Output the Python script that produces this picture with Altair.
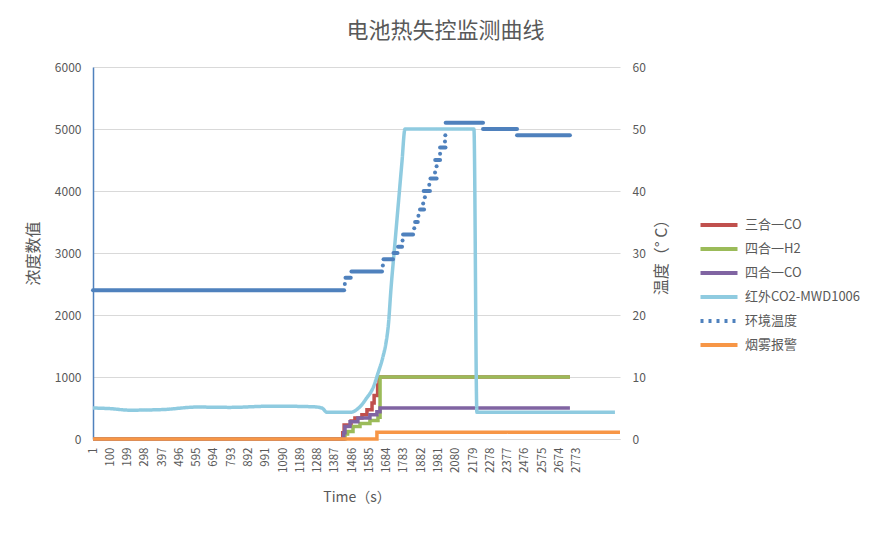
import altair as alt
import pandas as pd

# ---------------- data ----------------
SERIES = ["三合一CO", "四合一H2", "四合一CO", "红外CO2-MWD1006", "环境温度", "烟雾报警"]
COLORS = ["#c0504d", "#9bbb59", "#8064a2", "#8fcbe0", "#4f81bd", "#f79646"]
DASHES = [[1, 0], [1, 0], [1, 0], [1, 0], [3, 5], [1, 0]]

X_TICKS = [1, 100, 199, 298, 397, 496, 595, 694, 793, 892, 991, 1090, 1189, 1288,
           1387, 1486, 1585, 1684, 1783, 1882, 1981, 2080, 2179, 2278, 2377, 2476,
           2575, 2674, 2773]
X_DOMAIN = [1, 3021]
Y_LEFT_TICKS = [0, 1000, 2000, 3000, 4000, 5000, 6000]
Y_RIGHT_TICKS = [0, 10, 20, 30, 40, 50, 60]

# 三合一CO
co3_t = [1, 1428, 1432, 1440, 1480, 1502, 1542, 1571, 1600, 1612, 1632, 1640, 2734]
co3_v = [0, 0, 100, 225, 290, 340, 390, 470, 580, 700, 870, 1000, 1000]
# 四合一H2
h2_t = [1, 1440, 1445, 1460, 1491, 1531, 1588, 1634, 1646, 2734]
h2_v = [0, 0, 80, 120, 200, 250, 300, 350, 1000, 1000]
# 四合一CO
co4_t = [1, 1432, 1438, 1445, 1474, 1519, 1588, 1628, 1646, 2734]
co4_v = [0, 0, 100, 200, 280, 340, 390, 440, 500, 500]
# 烟雾报警
smoke_t = [1, 1628, 3021]
smoke_v = [0, 110, 110]
# 红外CO2-MWD1006
co2_t = [1, 98, 213, 402, 597, 786, 1032, 1262, 1313, 1342, 1474, 1531, 1569, 1605,
         1634, 1663, 1680, 1694, 1708, 1731, 1754, 1771, 1789, 2184, 2201, 2992]
co2_v = [500, 490, 465, 475, 515, 510, 530, 520, 500, 430, 430, 520, 660, 820,
         1060, 1330, 1550, 1850, 2400, 3150, 3900, 4450, 5000, 5000, 430, 430]
# 环境温度 (segments: start, end, value)
temp_start = [1, 1444, 1448, 1482, 1662, 1666, 1723, 1749, 1775, 1778, 1842, 1847,
              1866, 1875, 1893, 1903, 1896, 1928, 1935, 1961, 1970, 1962, 1990,
              1990, 2018, 2020, 2022, 2236, 2431]
temp_end = [1440, 1444, 1478, 1657, 1662, 1720, 1746, 1772, 1775, 1835, 1842, 1862,
            1866, 1898, 1893, 1903, 1932, 1928, 1970, 1961, 1970, 1990, 1990,
            2021, 2018, 2020, 2236, 2431, 2734]
temp_val = [24, 25, 26, 27, 28, 29, 30, 31, 32, 33, 34, 35,
            36, 37, 38, 39, 40, 41, 42, 43, 44, 45, 46,
            47, 48, 49, 51, 50, 49]

# ---------------- tables ----------------
def long(name, ts, vs):
    return pd.DataFrame({"series": name, "t": ts, "v": vs})

step_df = pd.concat([
    long(SERIES[0], co3_t, co3_v),
    long(SERIES[1], h2_t, h2_v),
    long(SERIES[2], co4_t, co4_v),
    long(SERIES[5], smoke_t, smoke_v),
], ignore_index=True)
co2_df = long(SERIES[3], co2_t, co2_v)
temp_df = pd.DataFrame({"series": SERIES[4], "t": temp_start, "end": temp_end, "temp": temp_val})

FONT = "Noto Sans CJK SC"
GREY = "#595959"

legend = alt.Legend(
    title=None, orient="none", legendX=614, legendY=146,
    symbolType="M-1.85,0H1.85", symbolSize=400, symbolStrokeWidth=4,
    labelFontSize=13, labelColor=GREY, labelFont=FONT, rowPadding=4, labelOffset=14,
)
color = alt.Color("series:N", scale=alt.Scale(domain=SERIES, range=COLORS), legend=legend)
dash = alt.StrokeDash("series:N", scale=alt.Scale(domain=SERIES, range=DASHES), legend=legend)

x_axis = alt.Axis(
    values=X_TICKS, format="d", labelAngle=270, labelFontSize=11.5, labelColor=GREY,
    labelPadding=8, labelOverlap=False, ticks=False, tickSize=0, grid=False,
    domainColor="#d9d9d9", domainWidth=1,
    title="Time（s）", titleFontSize=14, titleFontWeight="normal",
    titleColor=GREY, titlePadding=18,
)
x_scale = alt.Scale(domain=X_DOMAIN, nice=False, zero=False)
x_enc = alt.X("t:Q", scale=x_scale, axis=x_axis)

left_axis = alt.Axis(
    values=Y_LEFT_TICKS, format="d", grid=True, gridColor="#d9d9d9", gridWidth=1,
    domainColor="#4f81bd", domainWidth=1.5, ticks=False, tickSize=0,
    labelPadding=12, labelFontSize=12, labelColor=GREY,
    title="浓度数值", titleFontSize=16, titleFontWeight="normal",
    titleColor=GREY, titlePadding=13,
)
left_scale = alt.Scale(domain=[0, 6000], nice=False)
y_left = alt.Y("v:Q", scale=left_scale, axis=left_axis)

step_layer = alt.Chart(step_df).mark_line(
    interpolate="step-after", strokeWidth=3.5
).encode(x=x_enc, y=y_left, color=color, strokeDash=dash)

co2_layer = alt.Chart(co2_df).mark_line(
    interpolate="monotone", strokeWidth=3.5
).encode(x=x_enc, y=y_left, color=color, strokeDash=dash)

conc = alt.layer(step_layer, co2_layer)

temp_layer = alt.Chart(temp_df).mark_rule(strokeWidth=4, strokeCap="round").encode(
    x=x_enc,
    x2="end:Q",
    y=alt.Y(
        "temp:Q",
        scale=alt.Scale(domain=[0, 60], nice=False),
        axis=alt.Axis(
            orient="right", values=Y_RIGHT_TICKS, format="d", grid=False, domain=False,
            ticks=False, tickSize=0, labelPadding=12, labelFontSize=12,
            labelColor=GREY, title="温度（° C）", titleAngle=270, titleBaseline="top",
            titleFontSize=16, titleFontWeight="normal", titleColor=GREY,
            titlePadding=8,
        ),
    ),
    color=color,
)

chart = alt.layer(conc, temp_layer).resolve_scale(y="independent").properties(
    width=527, height=372,
    autosize=alt.AutoSizeParams(type="none"),
    padding={"left": 85, "top": 59, "right": 262, "bottom": 80},
    background="white",
    title=alt.TitleParams(
        "电池热失控监测曲线", fontSize=22, fontWeight="normal", color=GREY,
        font=FONT, offset=18, dx=89, anchor="middle",
    ),
).configure(font=FONT).configure_view(strokeWidth=0)

chart.save("out.html", embed_options={"renderer": "svg", "actions": False})
